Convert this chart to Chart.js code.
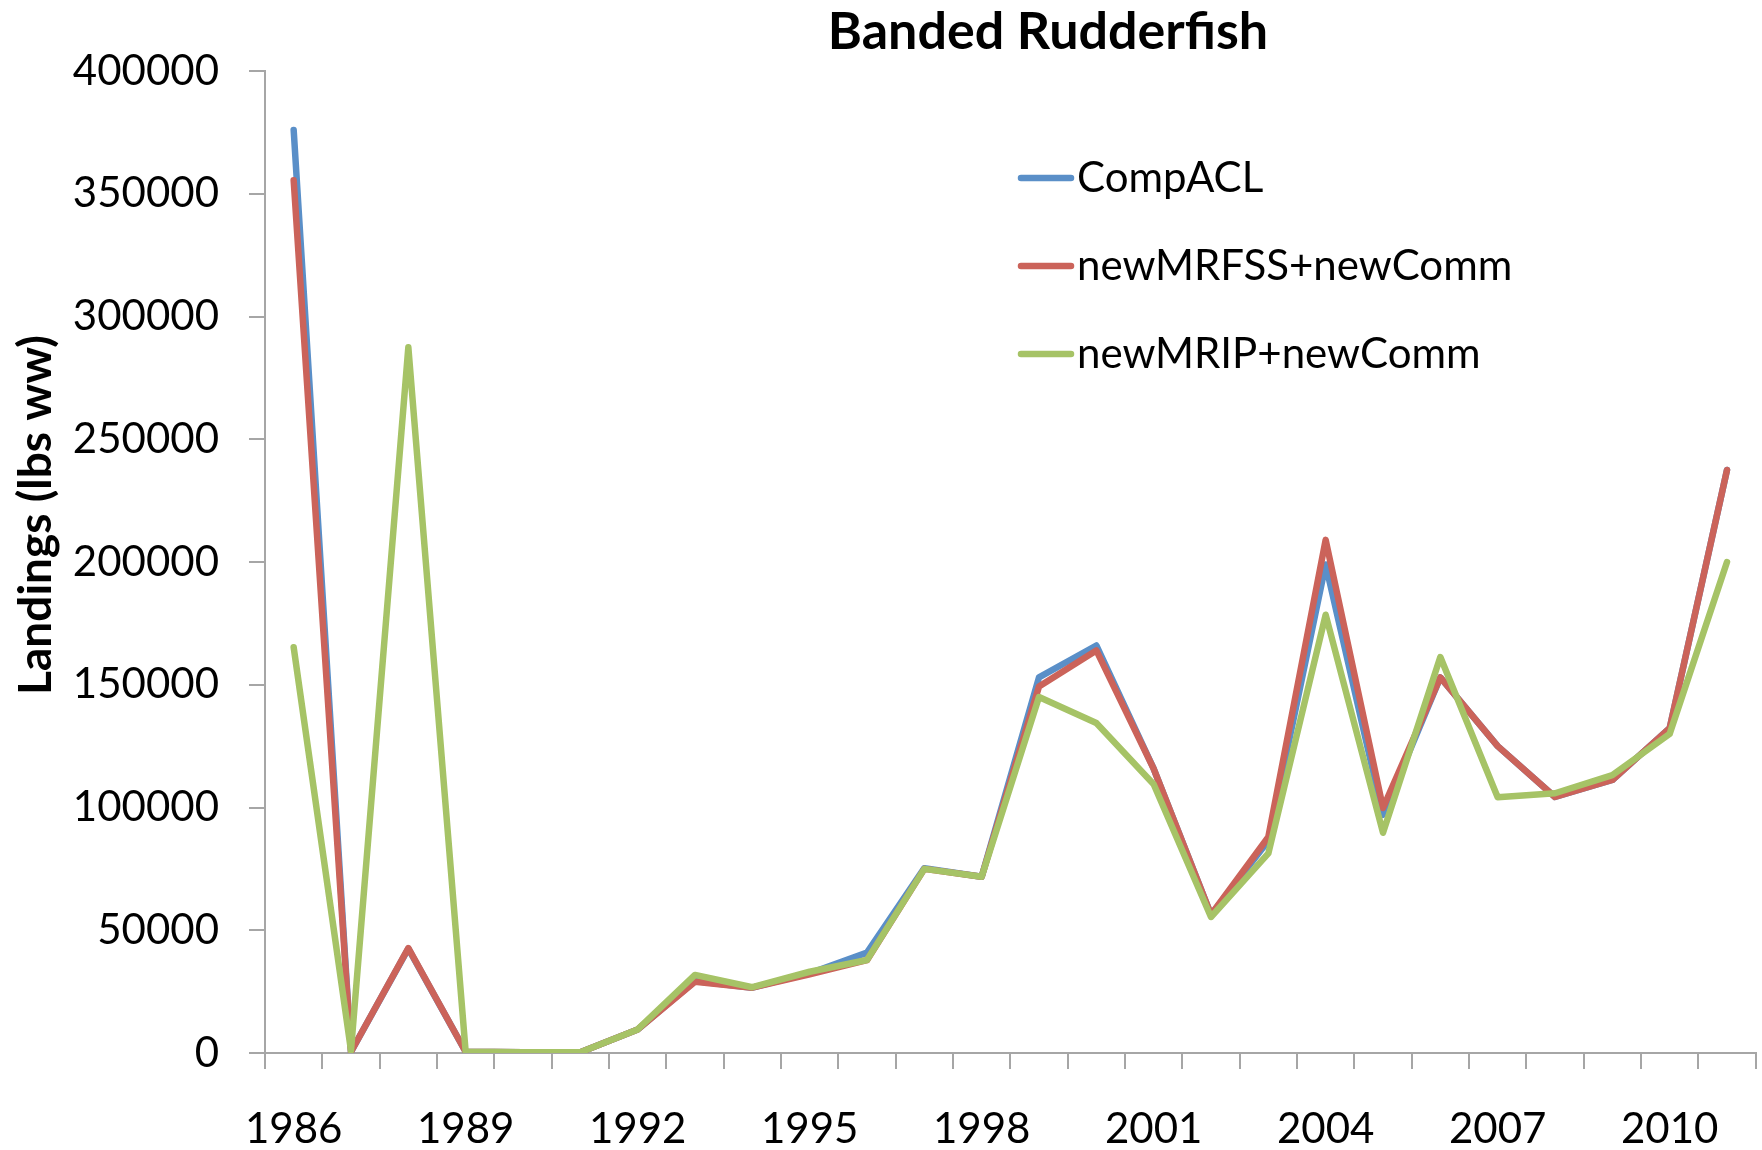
<!DOCTYPE html>
<html lang="en">
<head>
  <meta charset="utf-8">
  <title>Banded Rudderfish</title>
  <style>
    html, body { margin: 0; padding: 0; background: #fff; }
    #wrap { width: 1762px; height: 1150px; }
  </style>
</head>

<body>
  <div id="wrap">
    <canvas id="myChart" width="1762" height="1150"></canvas>
  </div>
  <script src="https://cdn.jsdelivr.net/npm/chart.js"></script>
  <script>
    const years = [1986, 1987, 1988, 1989, 1990, 1991, 1992, 1993, 1994, 1995, 1996, 1997, 1998,
      1999, 2000, 2001, 2002, 2003, 2004, 2005, 2006, 2007, 2008, 2009, 2010, 2011]

    const compACL = [376000, 500, 42500, 500, 300, 300, 9600, 29300, 26600, 32500, 40900, 75300, 71800,
      153000, 166000, 115800, 56300, 86500, 199000, 97000, 153000, 125000, 104300, 111200, 132300, 237500]
    const newMRFSS = [355500, 500, 42700, 500, 300, 300, 9600, 29000, 26600, 32000, 37800, 75000, 71800,
      149300, 164000, 115800, 56300, 88000, 209000, 99800, 153000, 125000, 104300, 111200, 132300, 237500]
    const newMRIP = [165300, 1000, 287500, 500, 300, 300, 9600, 31800, 26800, 33100, 37900, 75000, 71800,
      145000, 134400, 109500, 55400, 81300, 178500, 89700, 161300, 104200, 105800, 113200, 130000, 200000]

    const yTicks = [0, 50000, 100000, 150000, 200000, 250000, 300000, 350000, 400000]

    const chartTitle = 'Banded Rudderfish'
    const yTitle = 'Landings (lbs ww)'
    const fontFamily = 'Lato, "Noto Sans", sans-serif'

    // title, y-axis title and the in-plot legend
    const overlay = {
      id: 'overlay',
      afterDraw(chart) {
        const ctx = chart.ctx
        ctx.save()
        ctx.fillStyle = '#000'
        ctx.textAlign = 'center'
        ctx.textBaseline = 'middle'
        ctx.font = `bold 52px ${fontFamily}`
        ctx.fillText(chartTitle, 1048, 32)

        ctx.save()
        ctx.translate(36, 515)
        ctx.rotate(-Math.PI / 2)
        ctx.font = `bold 46px ${fontFamily}`
        ctx.fillText(yTitle, 0, 0)
        ctx.restore()

        ctx.textAlign = 'left'
        ctx.font = `42px ${fontFamily}`
        ctx.lineCap = 'round'
        ctx.lineWidth = 6.5
        chart.data.datasets.forEach((ds, i) => {
          const y = 178 + i * 88
          ctx.strokeStyle = ds.borderColor
          ctx.beginPath()
          ctx.moveTo(1021, y)
          ctx.lineTo(1071, y)
          ctx.stroke()
          ctx.fillText(ds.label, 1077, y)
        })
        ctx.restore()
      }
    }

    const ctx = document.getElementById('myChart')
    const myChart = new Chart(ctx, {
      type: 'line',
      data: {
        labels: years,
        datasets: [{
          label: 'CompACL',
          data: compACL,
          borderColor: '#5A8FC8',
          order: 2
        },
        {
          label: 'newMRFSS+newComm',
          data: newMRFSS,
          borderColor: '#CB635A',
          order: 1
        },
        {
          label: 'newMRIP+newComm',
          data: newMRIP,
          borderColor: '#A6C366',
          order: 0
        }
        ]
      },
      options: {
        responsive: false,
        animation: false,
        devicePixelRatio: 1,
        layout: { padding: { top: 71, right: 0, bottom: 0, left: 0 } },
        elements: {
          line: { borderWidth: 6.5, tension: 0, borderCapStyle: 'round', borderJoinStyle: 'round', fill: false },
          point: { radius: 0, hoverRadius: 0 }
        },
        plugins: {
          legend: { display: false },
          title: { display: false },
          tooltip: { enabled: false }
        },
        scales: {
          x: {
            type: 'category',
            offset: true,
            grid: {
              offset: true,
              drawOnChartArea: false,
              drawTicks: true,
              tickLength: 16,
              color: '#A6A6A6',
              lineWidth: 2
            },
            border: { color: '#A6A6A6', width: 2 },
            ticks: {
              autoSkip: false,
              maxRotation: 0,
              padding: 35,
              color: '#000',
              font: { family: fontFamily, size: 42 },
              callback: function(value, index) {
                return index % 3 === 0 ? String(years[index]) : ''
              }
            },
            afterFit(scale) { scale.height = 97 }
          },
          y: {
            min: 0,
            max: 400000,
            grid: {
              drawOnChartArea: false,
              drawTicks: true,
              tickLength: 16,
              color: '#A6A6A6',
              lineWidth: 2
            },
            border: { color: '#A6A6A6', width: 2 },
            afterBuildTicks(scale) {
              scale.ticks = yTicks.map(v => ({ value: v }))
            },
            ticks: {
              padding: 30,
              color: '#000',
              font: { family: fontFamily, size: 42 },
              callback: function(value) { return String(value) }
            },
            afterFit(scale) { scale.width = 265 }
          }
        }
      },
      plugins: [overlay]
    });
  </script>
</body>

</html>
